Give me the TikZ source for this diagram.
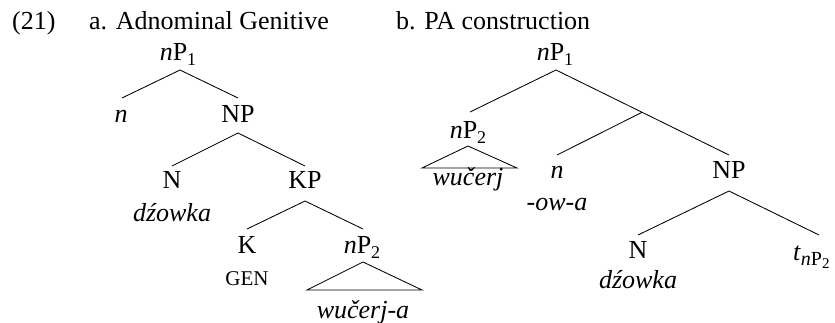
\documentclass[tikz,border=0pt]{standalone}
\usepackage{fontspec}
\setmainfont{Liberation Serif}
\newcommand\lsub[1]{\raisebox{-5pt}{\fontsize{18}{18}\selectfont #1}}
\begin{document}
\begin{tikzpicture}[x=1pt,y=-1pt,
  lbl/.style={anchor=base,inner sep=0pt,font=\fontsize{26}{30}\selectfont},
  small/.style={anchor=base,inner sep=0pt,font=\fontsize{21}{24}\selectfont},
  edge/.style={line width=0.85pt}]
\useasboundingbox (0,0) rectangle (835,322);
% titles
\node[lbl,anchor=base west] (ex) at (12,29) {(21)};
\node[lbl,anchor=base west] (ta) at (89,29) {a. Adnominal Genitive};
\node[lbl,anchor=base west] (tb) at (396,29) {b. PA construction};
% tree a
\node[lbl] (anP1) at (178,60) {\textit{n}P\lsub{1}};
\node[lbl] (an) at (121,122) {\textit{n}};
\node[lbl] (aNP) at (238,122) {NP};
\node[lbl] (aN) at (172,188) {N};
\node[lbl] (aKP) at (305,188) {KP};
\node[lbl] (adz) at (172,221) {\textit{dźowka}};
\node[lbl] (aK) at (247,253) {K};
\node[lbl] (anP2) at (362,253) {\textit{n}P\lsub{2}};
\node[small] (agen) at (247,285) {GEN};
\node[lbl] (awu) at (363,318) {\textit{wučerj-a}};
\draw[edge] ([xshift=2pt,yshift=-10pt]anP1.base) -- ([xshift=1pt,yshift=24pt]an.base);
\draw[edge] ([xshift=2pt,yshift=-10pt]anP1.base) -- ([yshift=24pt]aNP.base);
\draw[edge] ([yshift=-11pt]aNP.base) -- ([yshift=22pt]aN.base);
\draw[edge] ([yshift=-11pt]aNP.base) -- ([yshift=22pt]aKP.base);
\draw[edge] ([yshift=-13pt]aKP.base) -- ([yshift=24pt]aK.base);
\draw[edge] ([yshift=-13pt]aKP.base) -- ([xshift=1pt,yshift=24pt]anP2.base);
\draw[edge] ([xshift=1pt,yshift=-9pt]anP2.base) -- ++(-56,28) -- ++(115,0) -- cycle;
% tree b
\node[lbl] (bnP1) at (555,60) {\textit{n}P\lsub{1}};
\node[lbl] (bnP2) at (468,138) {\textit{n}P\lsub{2}};
\node[lbl] (bwu) at (468,185) {\textit{wučerj}};
\node[lbl] (bn) at (557,178) {\textit{n}};
\node[lbl] (bow) at (557,210) {\textit{-ow-a}};
\node[lbl] (bNP) at (729,178) {NP};
\node[lbl] (bN) at (638,258) {N};
\node[lbl] (bdz) at (638,288) {\textit{dźowka}};
\node[lbl,anchor=base west] (bt) at (793,260) {\textit{t}\raisebox{-5pt}{\fontsize{20}{20}\selectfont\textit{n}P\raisebox{-3pt}{\fontsize{15}{15}\selectfont 2}}};
\coordinate (bbar) at (642,112.3);
\draw[edge] ([xshift=1pt,yshift=-10pt]bnP1.base) -- ([xshift=2pt,yshift=26pt]bnP2.base);
\draw[edge] ([xshift=1pt,yshift=-10pt]bnP1.base) -- ([yshift=23pt]bNP.base);
\draw[edge] (bbar) -- ([yshift=23pt]bn.base);
\draw[edge] ([yshift=-8pt]bnP2.base) -- ++(-46,22) -- ++(95,0) -- cycle;
\draw[edge] ([yshift=-13pt]bNP.base) -- ([yshift=23pt]bN.base);
\draw[edge] ([yshift=-13pt]bNP.base) -- ([xshift=26pt,yshift=25pt]bt.base west);
\end{tikzpicture}
\end{document}
